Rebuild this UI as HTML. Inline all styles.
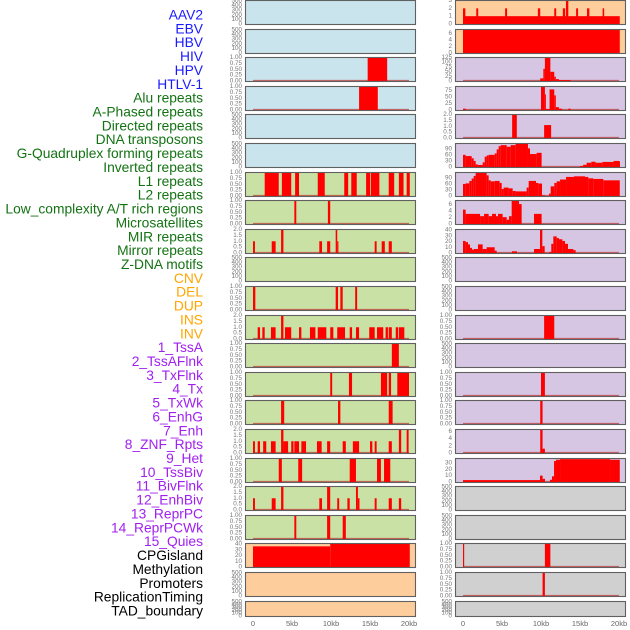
<!DOCTYPE html>
<html><head><meta charset="utf-8">
<style>
html,body{margin:0;padding:0;background:#fff;}
svg{display:block;}
</style></head>
<body>
<svg id="chart" width="630" height="630" viewBox="0 0 630 630" xmlns="http://www.w3.org/2000/svg" font-family="Liberation Sans, sans-serif"></svg>
<script>
// ---- labels ----
const labelNames = ["AAV2","EBV","HBV","HIV","HPV","HTLV-1","Alu repeats","A-Phased repeats","Directed repeats","DNA transposons","G-Quadruplex forming repeats","Inverted repeats","L1 repeats","L2 repeats","Low_complexity A/T rich regions","Microsatellites","MIR repeats","Mirror repeats","Z-DNA motifs","CNV","DEL","DUP","INS","INV","1_TssA","2_TssAFlnk","3_TxFlnk","4_Tx","5_TxWk","6_EnhG","7_Enh","8_ZNF_Rpts","9_Het","10_TssBiv","11_BivFlnk","12_EnhBiv","13_ReprPC","14_ReprPCWk","15_Quies","CPGisland","Methylation","Promoters","ReplicationTiming","TAD_boundary"];
const labelGroups = [0,0,0,0,0,0,1,1,1,1,1,1,1,1,1,1,1,1,1,2,2,2,2,2,3,3,3,3,3,3,3,3,3,3,3,3,3,3,3,4,4,4,4,4];
const groupColors = ["#1a1aff","#137313","#ffa500","#a020f0","#000000"];

// ---- tick label arrays ----
const ticksEmpty = [0,100,200,300,400,500];
const ticksUnit = ["0.00","0.25","0.50","0.75","1.00"];
const ticksTwo = ["0.0","0.5","1.0","1.5","2.0"];
const ticks0to3 = ["0","1","2","3"];
const ticks0to6 = ["0","2","4","6"];
const ticks0to40 = ["0","10","20","30","40"];
const ticks0to90 = ["0","30","60","90"];
const ticks0to75 = ["0","25","50","75"];
const ticks0to125 = ["0","25","50","75","100","125"];
const ticks0to30 = ["0","10","20","30"];
const xTickValues = [0,5,10,15,20];
const xTickLabels = ["0","5kb","10kb","15kb","20kb"];

// ---- series: [startKb, endKb, value] ----
const L2_bars = [[14.7,17.2,1]];
const L3_bars = [[13.6,16.0,1]];
const L6_bars = [[1.5,3.3,1],[3.7,4.9,1],[5.4,5.9,1],[8.3,9.2,1],[11.7,12.2,1],[12.6,13.3,1],[14.5,15.0,1],[15.1,16.2,1],[17.4,18.1,1],[18.7,19.3,1],[19.7,20.1,1]];
const L7_bars = [[5.3,5.55,1],[9.6,9.9,1]];
const L8_bars = [[0,0.25,1],[2.4,2.9,1],[3.6,3.9,2],[8.5,8.85,1],[9.5,9.9,1],[10.6,10.8,2],[10.8,10.95,1],[15.6,15.85,1],[16.5,16.9,1],[17.4,17.8,1]];
const L10_bars = [[0,0.3,1],[10.6,10.9,1],[11.2,11.5,1],[13.1,13.35,1]];
const L11_bars = [[0.6,0.9,1],[1.2,1.5,1],[2.3,2.9,1],[3.6,3.9,2],[4.1,4.9,1],[5.9,6.2,1],[7.3,8.0,1],[8.3,9.4,1],[9.9,10.3,1],[10.8,11.8,1],[12.4,12.7,1],[13.2,13.6,1],[14.9,15.6,1],[15.9,16.7,1],[17.0,17.3,1],[17.4,17.8,1],[18.3,18.6,1],[18.7,19.4,1]];
const L12_bars = [[17.8,18.7,1]];
const L13_bars = [[9.9,10.15,1],[12.3,12.7,1],[16.4,17.2,1],[17.4,17.7,1],[18.5,20.0,1]];
const L14_bars = [[3.6,4.0,1],[10.9,11.2,1],[17.4,17.9,1]];
const L15_bars = [[0,0.25,1],[0.6,0.9,1],[1.3,1.7,1],[2.3,2.9,1],[3.6,3.9,2],[3.9,4.5,1],[4.9,5.2,1],[5.3,5.9,1],[6.2,6.8,1],[8.2,8.8,1],[9.5,9.9,1],[11.5,11.9,1],[12.8,13.6,1],[15.0,15.3,1],[15.6,15.85,1],[17.4,17.8,1],[18.7,19.0,2],[19.7,19.95,2]];
const L16_bars = [[3.3,3.7,1],[5.8,6.3,1],[12.4,13.2,1],[15.9,16.4,1],[16.8,17.6,1]];
const L17_bars = [[0,0.25,1],[2.4,2.9,1],[3.6,3.9,2],[8.5,8.85,1],[9.5,9.9,2],[10.8,11.05,1],[12.1,12.4,1],[13.2,13.45,2],[13.45,13.65,1],[15.6,15.85,1],[17.4,17.8,1],[18.7,19.0,1]];
const L18_bars = [[5.3,5.55,1],[9.5,9.9,1],[11.5,11.9,1]];
const L19_bars = [[0,9.9,36],[9.9,20.1,41]];

const R0_bars = [[0,20.1,1],[0,0.3,2],[1.7,1.95,2],[5.4,5.65,2],[9.6,9.9,2],[11.7,11.95,2],[12.8,13.1,2],[13.2,13.5,3],[14.5,14.75,2],[15.9,16.2,2],[17.9,18.1,2]];
const R1_bars = [[0,20.1,7.3]];
const R2_bars = [[9.9,10.3,14],[10.3,10.5,65],[10.5,11.2,125],[11.2,11.7,49],[11.7,11.9,23],[11.9,12.3,10],[12.3,13.8,5]];
const R3_bars = [[0,0.35,5],[10.0,10.5,90],[10.5,10.6,60],[10.6,11.1,4],[11.1,11.7,79],[11.7,11.9,56],[11.9,12.3,11],[12.3,12.7,5],[13.5,13.8,5]];
const R4_bars = [[6.3,6.9,2],[10.4,11.3,1.1]];
const R5_bars = [[0,0.34,60],[0.34,1.11,54],[1.11,1.37,43],[1.37,1.62,30],[1.62,1.88,13],[1.88,2.52,10],[2.52,2.78,23],[2.78,3.03,51],[3.03,3.29,57],[3.29,4.06,60],[4.06,4.32,67],[4.32,4.57,87],[4.57,4.83,103],[4.83,5.6,108],[5.6,6.11,100],[6.11,6.75,108],[6.75,8.33,116],[8.33,8.59,92],[8.59,9.44,64],[9.44,10.08,70],[15.0,15.4,5],[15.4,15.85,11],[15.85,16.45,21],[16.45,17.0,26],[17.0,17.86,21],[17.86,19.3,25],[19.3,20.0,30],[20.0,20.1,28]];
const R6_bars = [[0,0.34,60],[0.34,0.81,63],[0.81,1.11,75],[1.11,1.37,87],[1.37,1.62,100],[1.62,3.03,117],[3.03,3.29,103],[3.29,3.55,78],[3.55,4.06,73],[4.06,4.7,75],[4.7,4.96,65],[4.96,5.21,35],[5.21,5.85,42],[5.85,6.37,38],[6.37,6.75,25],[6.75,8.16,23],[8.16,8.42,42],[8.42,9.36,75],[9.36,9.66,65],[9.66,10.13,62],[10.13,10.51,3],[11.03,11.24,12],[11.24,11.71,48],[11.71,12.01,65],[12.01,12.44,73],[12.44,13.21,82],[13.21,14.23,95],[14.23,15.64,98],[15.64,16.07,95],[16.07,16.71,88],[16.71,17.99,85],[17.99,20.1,78]];
const R7_bars = [[0,0.34,4.4],[0.34,2.19,3.1],[2.19,2.7,2.4],[2.7,3.29,3.1],[3.29,3.72,2.4],[3.72,4.23,3.1],[4.23,4.49,2.4],[4.49,5.08,3.1],[5.08,5.6,2.1],[5.6,5.9,1.3],[5.9,6.24,2.4],[6.24,7.18,7.3],[7.18,7.52,6.1],[9.1,10.08,3.1]];
const R8_bars = [[0,0.34,21],[0.34,0.64,19],[0.64,0.9,15],[0.9,1.15,9],[1.15,1.41,6],[1.41,1.92,7],[1.92,2.52,15],[2.52,3.03,7],[3.03,4.06,10],[4.06,4.32,4],[6.28,6.92,3],[9.1,9.87,7],[9.87,10.17,41],[10.17,10.47,12],[11.07,11.32,2],[11.32,11.58,16],[11.58,12.01,29],[12.01,12.31,26],[12.31,12.74,24],[12.74,13.08,21],[13.08,13.46,16],[13.46,14.15,7],[14.15,14.44,5]];
const R11_bars = [[10.4,11.7,1]];
const R13_bars = [[10.0,10.5,1]];
const R14_bars = [[9.9,10.2,1]];
const R15_bars = [[9.9,10.2,6.5],[10.2,10.5,1.2]];
const R16_bars = [[0,9.87,3],[9.87,10.21,10],[10.21,10.51,5],[11.15,11.41,3.5],[11.41,11.67,9],[11.67,11.92,33],[11.92,12.44,35],[12.44,18.85,36],[18.85,20.1,35]];
const R19_bars = [[0,0.15,1],[10.5,11.2,1]];
const R20_bars = [[10.2,10.5,1]];

const BG = {blue:"#c9e4ec",green:"#c9e1a5",orange:"#fecd9c",purple:"#d6c6e3",gray:"#d0d0d0"};

// panel configuration: [col,row,bg,ymax,ticks,bars]
const panels = [
 [0,0,"blue",520,ticksEmpty,null],[0,1,"blue",520,ticksEmpty,null],
 [0,2,"blue",1,ticksUnit,L2_bars],[0,3,"blue",1,ticksUnit,L3_bars],
 [0,4,"blue",520,ticksEmpty,null],[0,5,"blue",520,ticksEmpty,null],
 [0,6,"green",1,ticksUnit,L6_bars],[0,7,"green",1,ticksUnit,L7_bars],
 [0,8,"green",2,ticksTwo,L8_bars],[0,9,"green",520,ticksEmpty,null],
 [0,10,"green",1,ticksUnit,L10_bars],[0,11,"green",2,ticksTwo,L11_bars],
 [0,12,"green",1,ticksUnit,L12_bars],[0,13,"green",1,ticksUnit,L13_bars],
 [0,14,"green",1,ticksUnit,L14_bars],[0,15,"green",2,ticksTwo,L15_bars],
 [0,16,"green",1,ticksUnit,L16_bars],[0,17,"green",2,ticksTwo,L17_bars],
 [0,18,"green",1,ticksUnit,L18_bars],[0,19,"orange",41,ticks0to40,L19_bars],
 [0,20,"orange",520,ticksEmpty,null],[0,21,"orange",520,ticksEmpty,null],
 [1,0,"orange",3,ticks0to3,R0_bars],[1,1,"orange",7.3,ticks0to6,R1_bars],
 [1,2,"purple",125,ticks0to125,R2_bars],[1,3,"purple",90,ticks0to75,R3_bars],
 [1,4,"purple",2,ticksTwo,R4_bars],[1,5,"purple",116,ticks0to90,R5_bars],
 [1,6,"purple",117,ticks0to90,R6_bars],[1,7,"purple",7.2,ticks0to6,R7_bars],
 [1,8,"purple",41,ticks0to40,R8_bars],[1,9,"purple",520,ticksEmpty,null],
 [1,10,"purple",520,ticksEmpty,null],[1,11,"purple",1,ticksUnit,R11_bars],
 [1,12,"purple",520,ticksEmpty,null],[1,13,"purple",1,ticksUnit,R13_bars],
 [1,14,"purple",1,ticksUnit,R14_bars],[1,15,"purple",6.5,ticks0to6,R15_bars],
 [1,16,"purple",37,ticks0to30,R16_bars],[1,17,"gray",520,ticksEmpty,null],
 [1,18,"gray",520,ticksEmpty,null],[1,19,"gray",1,ticksUnit,R19_bars],
 [1,20,"gray",1,ticksUnit,R20_bars],[1,21,"gray",520,ticksEmpty,null]
];

const NS = "http://www.w3.org/2000/svg";
const svg = document.getElementById("chart");
function mk(tag, attrs, parent){
  const e = document.createElementNS(NS, tag);
  for (const k in attrs) e.setAttribute(k, attrs[k]);
  (parent||svg).appendChild(e);
  return e;
}

// labels
labelNames.forEach((name,i)=>{
  const t = mk("text",{x:203,y:15+i*13.86,"text-anchor":"end","dominant-baseline":"central","font-size":"13.8",fill:groupColors[labelGroups[i]]});
  
  
  t.textContent = name;
});

function xScale(col, kb){ return (col ? 463 : 253) + kb*7.8; }

panels.forEach((p,idx)=>{
  const [col,row,bg,ymax,ticks,bars] = p;
  const x0 = col ? 455 : 245, w = 171;
  const y0 = Math.round(row*28.6), h = row===21 ? 16 : 25;
  const yScale = v => y0 + h - 1 - (v/ymax)*(h-1.5);
  const g = mk("g",{});
  
  
  const cid = "clip"+idx;
  const cp = mk("clipPath",{id:cid},g);
  mk("rect",{x:x0,y:y0,width:w,height:h},cp);
  const bgr = mk("rect",{x:x0,y:y0,width:w,height:h,fill:BG[bg]},g);
  
  
  const inner = mk("g",{"clip-path":"url(#"+cid+")"},g);
  if (bars){
    const bl = mk("line",{x1:xScale(col,0),x2:xScale(col,20),y1:yScale(0)-0.3,y2:yScale(0)-0.3,stroke:"rgba(190,50,50,0.7)","stroke-width":1.6},inner);
    
    
    bars.forEach(b=>{
      const xa = xScale(col,b[0]), xb = xScale(col,b[1]);
      const ya = yScale(b[2]), yb = yScale(0);
      const r = mk("rect",{x:xa,y:ya,width:Math.max(1,xb-xa),height:Math.max(0,yb-ya+1),fill:"#ff0000"},inner);
      
      
    });
  }
  const border = mk("rect",{x:x0+0.5,y:y0+0.5,width:w-1,height:h-1,fill:"none",stroke:"#606060","stroke-width":1.1},g);
  
  
  // y ticks
  const n = ticks.length;
  ticks.forEach((lab,i)=>{
    const v = bars ? parseFloat(lab) : lab;
    const ty = bars ? yScale(v) : (y0 + h - 1 - (i/(n-1))*(h-2));
    const t = mk("text",{x:x0-3,y:ty,"text-anchor":"end","dominant-baseline":"central","font-size":"6.3",fill:"#777"},g);
    
    
    t.textContent = lab;
  });
});

// x axes
[0,1].forEach(col=>{
  xTickValues.forEach((v,i)=>{
    const t = mk("text",{x:xScale(col,v),y:626,"text-anchor":"middle","font-size":"7.5",fill:"#666"});
    
    
    t.textContent = xTickLabels[i];
  });
});
</script>
</body></html>
